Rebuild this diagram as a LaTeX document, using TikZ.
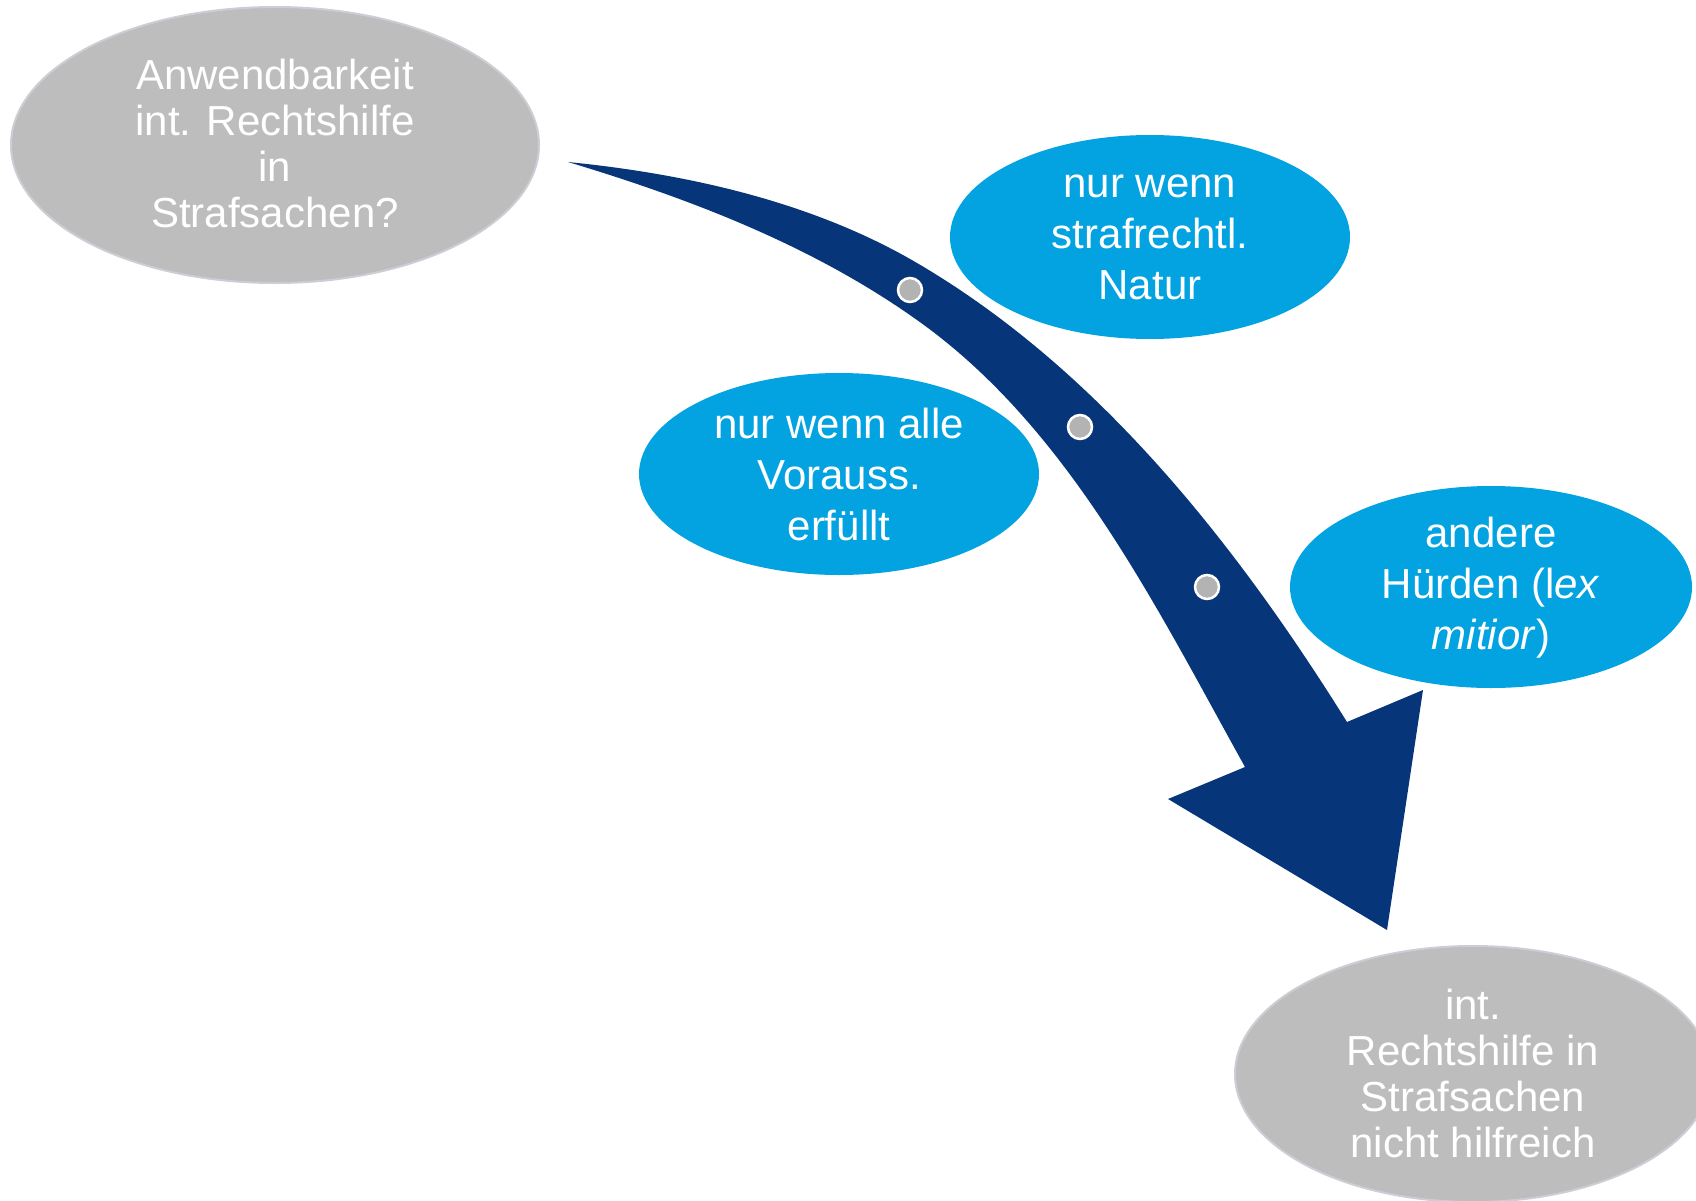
\documentclass[tikz,border=0pt]{standalone}
\usepackage{fontspec}
\setmainfont{Liberation Sans}
\usetikzlibrary{shapes.geometric}
\definecolor{navy}{HTML}{073579}
\definecolor{sky}{HTML}{02A3E0}
\definecolor{grayfill}{HTML}{BDBDBD}
\definecolor{grayline}{HTML}{CDCDD6}
\definecolor{dotgray}{HTML}{B3B3B3}
\begin{document}
\begin{tikzpicture}[x=1pt,y=-1pt,
  graytext/.style={text=white, align=center, font=\fontsize{42}{46}\selectfont, inner sep=0pt},
  bluetext/.style={text=white, align=center, font=\fontsize{42}{51}\selectfont, inner sep=0pt},
  grayell/.style={ellipse, fill=grayfill, draw=grayline, line width=2pt, inner sep=0pt},
  blueell/.style={ellipse, fill=sky, inner sep=0pt},
  dotstyle/.style={circle, fill=dotgray, draw=white, line width=2.5pt, minimum size=24pt, inner sep=0pt}]
\useasboundingbox (0,0) rectangle (1696,1201);
\clip (0,0) rectangle (1696,1201);

% big curved arrow
\fill[navy] (568,162) .. controls (688,174) and (813,202) .. (917,263)
  .. controls (1098,369) and (1236,544) .. (1347,722)
  -- (1423,690) -- (1387,930) -- (1168,799) -- (1245,767)
  .. controls (1155,605) and (1068,427) .. (917,320)
  .. controls (813,246) and (691,199) .. (568,162) -- cycle;

% dots on the arrow
\node[dotstyle] (d1) at (910,290) {};
\node[dotstyle] (d2) at (1080,427) {};
\node[dotstyle] (d3) at (1207,587) {};

% grey ellipses
\node[grayell, minimum width=528pt, minimum height=276pt] (e1) at (275,145) {};
\node[graytext] (t1) at (275,143) {Anwendbarkeit\\int. Rechtshilfe\\in\\Strafsachen?};

\node[grayell, minimum width=476pt, minimum height=256pt] (e2) at (1473,1074) {};
\node[graytext] (t2) at (1473,1073) {int.\\Rechtshilfe in\\Strafsachen\\nicht hilfreich};

% blue ellipses
\node[blueell, minimum width=400pt, minimum height=204pt] (bA) at (1150,237) {};
\node[bluetext] (tA) at (1150,237) {nur wenn\\strafrechtl.\\Natur};

\node[blueell, minimum width=400pt, minimum height=202pt] (bB) at (839,474) {};
\node[bluetext] (tB) at (839,474) {nur wenn alle\\Vorauss.\\erfüllt};

\node[blueell, minimum width=402pt, minimum height=202pt] (bC) at (1491,587) {};
\node[bluetext] (tC) at (1491,588) {andere\\Hürden (l\textit{ex}\\\textit{mitior})};
\end{tikzpicture}
\end{document}
